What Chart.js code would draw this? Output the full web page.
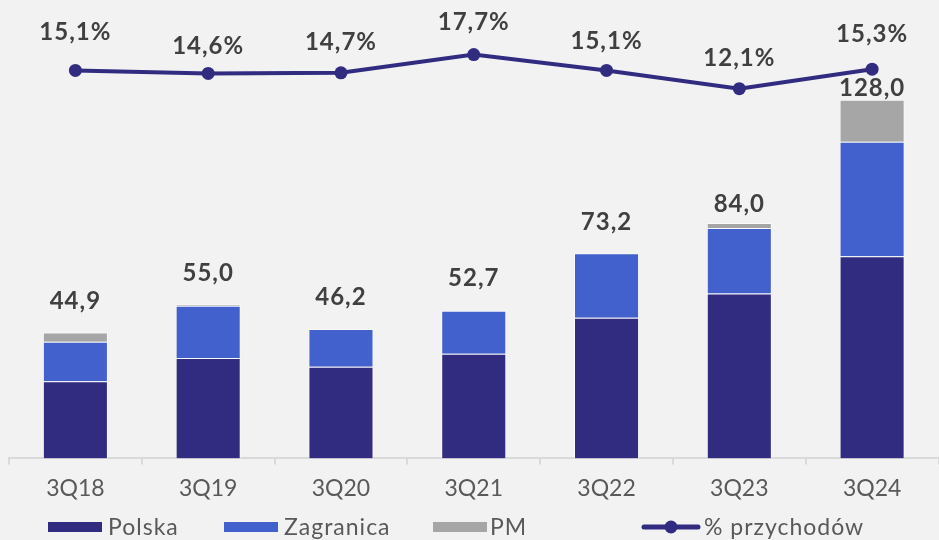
<!DOCTYPE html>
<html>
<head>
<meta charset="utf-8">
<script src="https://cdn.jsdelivr.net/npm/chart.js"></script>
<style>
  html, body { margin: 0; padding: 0; background: #F2F2F2; overflow: hidden; }
  canvas { display: block; }
</style>
</head>
<body>
<canvas id="revenueChart" width="945" height="540"></canvas>
<script>
// dane z wykresu
var quarters = ['3Q18', '3Q19', '3Q20', '3Q21', '3Q22', '3Q23', '3Q24'];
var polska = [27.5, 35.8, 32.7, 37.3, 50.2, 58.8, 72.1];
var zagranica = [14.1, 18.7, 13.5, 15.4, 23.0, 23.4, 40.9];
var pm = [3.3, 0.5, 0, 0, 0, 1.8, 15.0];
var totals = [44.9, 55.0, 46.2, 52.7, 73.2, 84.0, 128.0];
var sharePct = [15.1, 14.6, 14.7, 17.7, 15.1, 12.1, 15.3];

var NAVY = '#312C80';
var BLUE = '#4361CC';
var GREY = '#A6A6A6';
var LABEL = '#404040';
var FONT = 'Lato, "Open Sans", sans-serif';

function fmt(v) { return v.toFixed(1).replace('.', ','); }

// etykiety nad słupkami i punktami
var valueLabels = {
    id: 'valueLabels',
    beforeDraw: function (chart) {
        var c = chart.ctx;
        c.save();
        c.fillStyle = '#F2F2F2';
        c.fillRect(0, 0, chart.width, chart.height);
        c.restore();
    },
    afterDatasetsDraw: function (chart) {
        var c = chart.ctx;
        var topMeta = chart.getDatasetMeta(2);
        var lineMeta = chart.getDatasetMeta(3);
        var totalLift = [31, 31, 32, 32, 31, 19, 11];
        var pctLift = [38, 27, 31, 32, 29, 30, 35];
        c.save();
        c.fillStyle = LABEL;
        c.font = 'bold 24px ' + FONT;
        c.letterSpacing = '1px';
        c.textAlign = 'center';
        c.textBaseline = 'middle';
        topMeta.data.forEach(function (bar, i) {
            c.fillText(fmt(totals[i]), bar.x, bar.y - totalLift[i]);
        });
        lineMeta.data.forEach(function (pt, i) {
            c.fillText(fmt(sharePct[i]) + '%', pt.x, pt.y - pctLift[i]);
        });
        c.restore();
    },
    afterDraw: function (chart) {
        // legenda
        var c = chart.ctx;
        var y = 527;
        var items = [
            { box: 48, text: 108, ds: 0 },
            { box: 224, text: 284, ds: 1 },
            { box: 433, text: 490, ds: 2 },
            { box: 642, text: 704, ds: 3 }
        ];
        c.save();
        c.font = '23px ' + FONT;
        c.letterSpacing = '1px';
        c.textBaseline = 'middle';
        items.forEach(function (it) {
            var ds = chart.data.datasets[it.ds];
            if (ds.type === 'line') {
                c.strokeStyle = ds.borderColor;
                c.lineWidth = 5;
                c.lineCap = 'round';
                c.beginPath();
                c.moveTo(it.box + 2, y);
                c.lineTo(it.box + 56, y);
                c.stroke();
                c.fillStyle = ds.borderColor;
                c.beginPath();
                c.arc(it.box + 29, y, 6.5, 0, Math.PI * 2);
                c.fill();
            } else {
                c.fillStyle = ds.backgroundColor;
                c.fillRect(it.box, y - 5, 54, 10);
            }
            c.fillStyle = '#595959';
            c.fillText(ds.label, it.text, y + 1);
        });
        c.restore();
    }
};

var ctx = document.getElementById('revenueChart').getContext('2d');
var chart = new Chart(ctx, {
    type: 'bar',
    data: {
        labels: quarters,
        datasets: [{
            label: 'Polska',
            data: polska,
            backgroundColor: NAVY,
            borderColor: 'rgba(255,255,255,0.6)',
            borderWidth: 1,
            stack: 's',
            order: 1
        }, {
            label: 'Zagranica',
            data: zagranica,
            backgroundColor: BLUE,
            borderColor: 'rgba(255,255,255,0.6)',
            borderWidth: 1,
            stack: 's',
            order: 1
        }, {
            label: 'PM',
            data: pm,
            backgroundColor: GREY,
            borderColor: 'rgba(255,255,255,0.6)',
            borderWidth: 1,
            stack: 's',
            order: 1
        }, {
            type: 'line',
            label: '% przychodów',
            data: sharePct,
            yAxisID: 'y2',
            borderColor: NAVY,
            backgroundColor: NAVY,
            borderWidth: 4,
            pointRadius: 6.5,
            pointBackgroundColor: NAVY,
            pointBorderWidth: 0,
            tension: 0,
            order: 0
        }]
    },
    options: {
        responsive: false,
        animation: false,
        devicePixelRatio: 1,
        layout: { padding: { left: 9, right: 0, top: 10, bottom: 28 } },
        datasets: {
            bar: { categoryPercentage: 1, barPercentage: 0.49 }
        },
        plugins: {
            legend: { display: false },
            tooltip: { enabled: false }
        },
        scales: {
            x: {
                stacked: true,
                grid: {
                    offset: true,
                    drawOnChartArea: false,
                    drawTicks: true,
                    tickLength: 6,
                    color: '#D9D9D9',
                    lineWidth: 2
                },
                border: { color: '#D9D9D9', width: 2 },
                ticks: {
                    color: '#595959',
                    padding: 10,
                    font: { family: FONT, size: 23 }
                }
            },
            y: { stacked: true, display: false, min: 0, max: 160 },
            y2: { display: false, min: -48.5, max: 25 }
        }
    },
    plugins: [valueLabels]
});
</script>
</body>
</html>
